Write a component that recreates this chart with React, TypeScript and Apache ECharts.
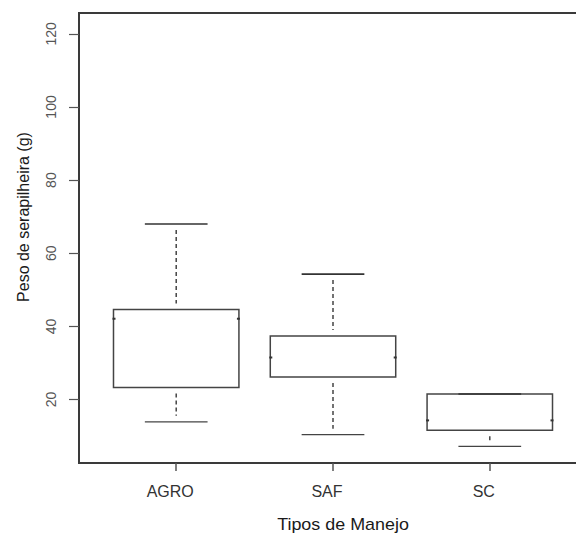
import React, { useEffect, useRef } from "react";
import * as echarts from "echarts";

const categories = ["AGRO", "SAF", "SC"];
const lowerWhisker = [13.9, 10.4, 7.2];
const q1 = [23.3, 26.2, 11.6];
const median = [42.1, 31.5, 14.3];
const q3 = [44.6, 37.4, 21.5];
const upperWhisker = [68.0, 54.3, 21.5];
const yTicks = [20, 40, 60, 80, 100, 120];
const xTicks = [1, 2, 3];

const FONT = "'Liberation Sans', Arial, sans-serif";

export default function App() {
  const ref = useRef<HTMLDivElement>(null);
  useEffect(() => {
    if (!ref.current) return;
    const chart = echarts.init(ref.current, null, { renderer: "svg" });
    const data = categories.map((_, i) => [
      i + 1,
      lowerWhisker[i],
      q1[i],
      median[i],
      q3[i],
      upperWhisker[i],
    ]);
    const stroke = "#444";
    chart.setOption({
      animation: false,
      backgroundColor: "#fff",
      grid: {
        left: 79,
        top: 13,
        width: 508,
        height: 450,
        show: true,
        borderColor: "#3a3a3a",
        borderWidth: 2,
        backgroundColor: "transparent",
        containLabel: false,
        outerBoundsMode: "none",
      },
      xAxis: {
        type: "value",
        min: 0.38,
        max: 3.62,
        splitLine: { show: false },
        axisLine: { show: false },
        axisTick: {
          show: true,
          customValues: xTicks,
          length: 8,
          lineStyle: { color: "#555", width: 1.5 },
        },
        axisLabel: {
          customValues: xTicks,
          formatter: (v: number) => categories[Math.round(v) - 1] ?? "",
          fontSize: 16,
          fontFamily: FONT,
          color: "#333",
          margin: 20,
          padding: [0, 12, 0, 0],
        },
      },
      yAxis: {
        type: "value",
        min: 2.65,
        max: 125.7,
        splitLine: { show: false },
        axisLine: { show: false },
        axisTick: {
          show: true,
          customValues: yTicks,
          length: 10,
          lineStyle: { color: "#555", width: 1.2 },
        },
        axisLabel: {
          customValues: yTicks,
          rotate: 90,
          fontSize: 14,
          fontFamily: FONT,
          color: "#555",
          margin: 21,
        },
      },
      graphic: [
        {
          type: "text",
          x: 343,
          y: 525,
          scaleX: 1.12,
          style: {
            text: "Tipos de Manejo",
            fontSize: 16,
            fontFamily: FONT,
            fill: "#1a1a1a",
            align: "center",
            verticalAlign: "middle",
          },
        },
        {
          type: "text",
          x: 23,
          y: 217,
          rotation: Math.PI / 2,
          style: {
            text: "Peso de serapilheira (g)",
            fontSize: 16,
            fontFamily: FONT,
            fill: "#1a1a1a",
            align: "center",
            verticalAlign: "middle",
          },
        },
      ],
      series: [
        {
          type: "custom",
          clip: false,
          data,
          encode: { x: 0, y: [1, 2, 3, 4, 5] },
          renderItem: (params: any, api: any) => {
            const x = api.value(0);
            const lo = api.value(1);
            const a = api.value(2);
            const m = api.value(3);
            const b = api.value(4);
            const hi = api.value(5);
            const [xl, yq3] = api.coord([x - 0.4, b]);
            const [xr, yq1] = api.coord([x + 0.4, a]);
            const [xc, yHi] = api.coord([x, hi]);
            const [, yLo] = api.coord([x, lo]);
            const [, yMed] = api.coord([x, m]);
            const [cl] = api.coord([x - 0.2, hi]);
            const [cr] = api.coord([x + 0.2, hi]);
            const children: any[] = [
              {
                type: "rect",
                shape: { x: xl, y: yq3, width: xr - xl, height: yq1 - yq3 },
                style: { fill: "#fff", stroke, lineWidth: 1.5 },
              },
              {
                type: "line",
                shape: { x1: cl, y1: yHi, x2: cr, y2: yHi },
                style: { stroke: "#333", lineWidth: 1.6 },
              },
              {
                type: "line",
                shape: { x1: cl, y1: yLo, x2: cr, y2: yLo },
                style: { stroke: "#444", lineWidth: 1.3 },
              },
              {
                type: "rect",
                shape: { x: xl - 1, y: yMed - 1, width: 3, height: 2 },
                style: { fill: "#333" },
              },
              {
                type: "rect",
                shape: { x: xr - 2, y: yMed - 1, width: 3, height: 2 },
                style: { fill: "#333" },
              },
            ];
            const inset = 6;
            if (yq3 - yHi > inset * 2) {
              children.push({
                type: "line",
                shape: { x1: xc, y1: yHi + inset, x2: xc, y2: yq3 - inset },
                style: { stroke: "#444", lineWidth: 1.5, lineDash: [4, 3] },
              });
            }
            if (yLo - yq1 > inset * 2) {
              children.push({
                type: "line",
                shape: { x1: xc, y1: yq1 + inset, x2: xc, y2: yLo - inset },
                style: { stroke: "#444", lineWidth: 1.5, lineDash: [4, 3] },
              });
            }
            return { type: "group", children };
          },
        },
      ],
    });
    return () => chart.dispose();
  }, []);
  return (
    <div
      ref={ref}
      style={{ position: "absolute", left: 0, top: 0, width: 576, height: 535 }}
    />
  );
}
